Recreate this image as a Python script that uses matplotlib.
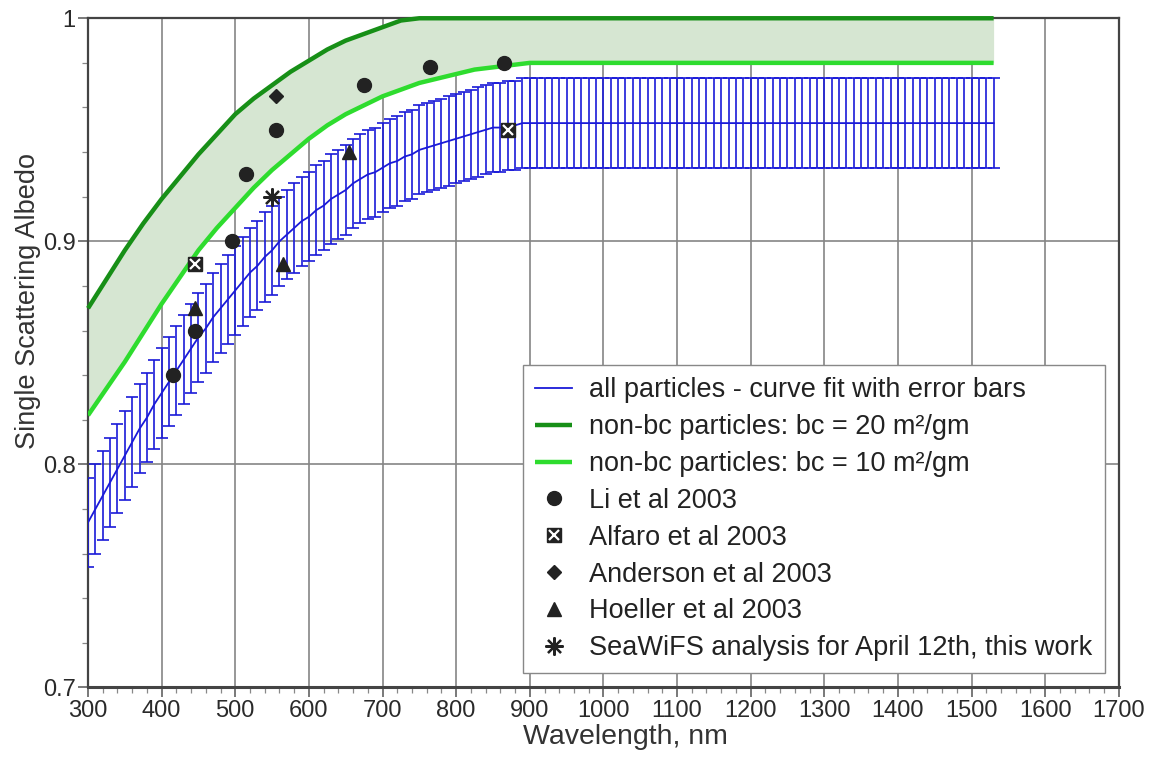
import numpy as np
import matplotlib
matplotlib.use('Agg')
import matplotlib.pyplot as plt
from matplotlib.ticker import MultipleLocator, FuncFormatter
from matplotlib.legend_handler import HandlerTuple

plt.rcParams['font.family'] = ['Liberation Sans', 'DejaVu Sans']

# all particles - curve fit, one point every 10 nm (300 ... 1530)
fit_wl = np.arange(300, 1531, 10)
fit_ssa = [
    0.774, 0.780, 0.786, 0.792, 0.798, 0.804, 0.810, 0.816, 0.821, 0.827,  # 300-390
    0.832, 0.837, 0.842, 0.847, 0.852, 0.857, 0.861, 0.866, 0.870, 0.874,  # 400-490
    0.878, 0.882, 0.886, 0.889, 0.893, 0.896, 0.900, 0.903, 0.906, 0.909,  # 500-590
    0.911, 0.914, 0.916, 0.919, 0.921, 0.923, 0.926, 0.928, 0.930, 0.931,  # 600-690
    0.933, 0.935, 0.936, 0.938, 0.939, 0.941, 0.942, 0.943, 0.944, 0.945,  # 700-790
    0.946, 0.947, 0.948, 0.949, 0.950, 0.951, 0.951, 0.952, 0.952, 0.953,  # 800-890
    0.953, 0.953, 0.953, 0.953, 0.953, 0.953, 0.953, 0.953, 0.953, 0.953,  # 900-990
    0.953, 0.953, 0.953, 0.953, 0.953, 0.953, 0.953, 0.953, 0.953, 0.953,  # 1000-1090
    0.953, 0.953, 0.953, 0.953, 0.953, 0.953, 0.953, 0.953, 0.953, 0.953,  # 1100-1190
    0.953, 0.953, 0.953, 0.953, 0.953, 0.953, 0.953, 0.953, 0.953, 0.953,  # 1200-1290
    0.953, 0.953, 0.953, 0.953, 0.953, 0.953, 0.953, 0.953, 0.953, 0.953,  # 1300-1390
    0.953, 0.953, 0.953, 0.953, 0.953, 0.953, 0.953, 0.953, 0.953, 0.953,  # 1400-1490
    0.953, 0.953, 0.953, 0.953,                                            # 1500-1530
]
fit_err = 0.02

# non-bc particles, every 25 nm up to 900, then flat to 1530
nbc_wl = [300, 325, 350, 375, 400, 425, 450, 475, 500, 525, 550, 575, 600,
          625, 650, 675, 700, 725, 750, 775, 800, 825, 850, 875, 900, 1530]
bc20_ssa = [0.870, 0.883, 0.896, 0.908, 0.919, 0.929, 0.939, 0.948, 0.957, 0.964,
            0.970, 0.976, 0.981, 0.986, 0.990, 0.993, 0.996, 0.999, 1.000, 1.000,
            1.000, 1.000, 1.000, 1.000, 1.000, 1.000]
bc10_ssa = [0.822, 0.834, 0.846, 0.859, 0.872, 0.884, 0.896, 0.906, 0.915, 0.924,
            0.932, 0.939, 0.946, 0.952, 0.957, 0.961, 0.965, 0.968, 0.971, 0.973,
            0.975, 0.977, 0.978, 0.979, 0.980, 0.980]

# measurements
li_wl = [415, 445, 495, 515, 555, 675, 765, 865]
li_ssa = [0.840, 0.860, 0.900, 0.930, 0.950, 0.970, 0.978, 0.980]
alfaro_wl = [445, 870]
alfaro_ssa = [0.890, 0.950]
anderson_wl = [555]
anderson_ssa = [0.965]
hoeller_wl = [445, 565, 655]
hoeller_ssa = [0.870, 0.890, 0.940]
seawifs_wl = [550]
seawifs_ssa = [0.920]

fig = plt.figure(figsize=(11.66, 7.61), dpi=100)
ax = fig.add_axes([0.0755, 0.0966, 0.884, 0.8794])

blue = '#1a1ad8'
dkgreen = '#178f17'
ltgreen = '#2edc2e'
mk = '#222222'

ax.fill_between(nbc_wl, bc10_ssa, bc20_ssa, color='#d6e6d2', lw=0, zorder=1)
l20, = ax.plot(nbc_wl, bc20_ssa, color=dkgreen, lw=3.2, zorder=4, clip_on=False,
               solid_capstyle='butt')
l10, = ax.plot(nbc_wl, bc10_ssa, color=ltgreen, lw=3.2, zorder=4, solid_capstyle='butt')

ax.errorbar(fit_wl, fit_ssa, yerr=fit_err, color=blue, lw=1.3, elinewidth=1.2,
            capsize=4.4, capthick=1.2, zorder=3)
lfit, = ax.plot([], [], color=blue, lw=1.3)

h_li, = ax.plot(li_wl, li_ssa, 'o', color=mk, ms=10, ls='none', zorder=5)
h_al1, = ax.plot(alfaro_wl, alfaro_ssa, 's', color=mk, ms=9.5, ls='none', zorder=5)
h_al2, = ax.plot(alfaro_wl, alfaro_ssa, 'x', color='white', ms=6.5, mew=1.6, ls='none', zorder=6)
h_an, = ax.plot(anderson_wl, anderson_ssa, 'D', color=mk, ms=7, ls='none', zorder=5)
h_ho, = ax.plot(hoeller_wl, hoeller_ssa, '^', color=mk, ms=9.5, ls='none', zorder=5)
h_sw, = ax.plot(seawifs_wl, seawifs_ssa, marker=(8, 2, 0), color=mk, ms=13, mew=1.6,
                ls='none', zorder=5)

ax.set_xlim(300, 1700)
ax.set_ylim(0.7, 1.0)
ax.xaxis.set_major_locator(MultipleLocator(100))
ax.xaxis.set_minor_locator(MultipleLocator(20))
ax.yaxis.set_major_locator(MultipleLocator(0.1))
ax.yaxis.set_minor_locator(MultipleLocator(0.02))
ax.yaxis.set_major_formatter(FuncFormatter(lambda v, p: '%g' % round(v, 2)))
ax.grid(True, which='major', color='#858585', lw=1.2, zorder=0)
ax.set_axisbelow(True)

for s in ax.spines.values():
    s.set_color('#444444')
    s.set_linewidth(1.6)
ax.spines['bottom'].set_linewidth(2.2)

ax.tick_params(which='major', direction='out', length=7, width=1.1, color='#555555',
               labelsize=17, labelcolor='#2a2a2a', pad=2)
ax.tick_params(which='minor', direction='out', length=4, width=0.9, color='#888888')

ax.set_xlabel('Wavelength, nm', fontsize=20.5, color='#333333')
ax.set_ylabel('Single Scattering Albedo', fontsize=19.5, color='#333333')
ax.xaxis.set_label_coords(0.521, -0.054)
ax.yaxis.set_label_coords(-0.046, 0.578)

handles = [lfit, l20, l10, h_li, (h_al1, h_al2), h_an, h_ho, h_sw]
labels = ['all particles - curve fit with error bars',
          'non-bc particles: bc = 20 m\u00b2/gm',
          'non-bc particles: bc = 10 m\u00b2/gm',
          'Li et al 2003',
          'Alfaro et al 2003',
          'Anderson et al 2003',
          'Hoeller et al 2003',
          'SeaWiFS analysis for April 12th, this work']
leg = ax.legend(handles, labels, loc='lower right', bbox_to_anchor=(0.9865, 0.021),
                borderaxespad=0, fontsize=19.5, fancybox=False, framealpha=1,
                edgecolor='#888888', handlelength=1.35, labelspacing=0.4,
                handletextpad=0.65, borderpad=0.45,
                handler_map={tuple: HandlerTuple(ndivide=1, pad=0)})
leg.get_frame().set_linewidth(1.0)
leg.set_zorder(10)
for t in leg.get_texts():
    t.set_color('#222222')

fig.savefig('out.png', dpi=100)
